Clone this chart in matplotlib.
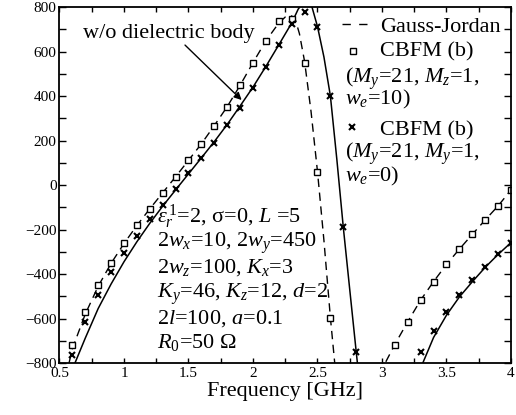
import numpy as np
import matplotlib
matplotlib.use("Agg")
import matplotlib.pyplot as plt
from matplotlib.ticker import MultipleLocator

plt.rcParams['font.family'] = ['Liberation Serif', 'DejaVu Serif']
plt.rcParams['mathtext.fontset'] = 'custom'
plt.rcParams['mathtext.rm'] = 'Liberation Serif'
plt.rcParams['mathtext.it'] = 'Liberation Serif:italic'

# Gauss-Jordan (dashed), two branches
gj_f1 = [0.55, 0.6, 0.7, 0.8, 0.9, 1.0, 1.1, 1.2, 1.3, 1.4, 1.5, 1.6, 1.7, 1.8, 1.9,
         2.0, 2.1, 2.2, 2.25, 2.3, 2.33, 2.36, 2.4, 2.45, 2.5, 2.55, 2.6, 2.65]
gj_x1 = [-860, -735, -580, -455, -352, -263, -182, -107, -35, 37, 111, 185, 267, 352, 448,
         550, 648, 728, 755, 760, 740, 680, 555, 330, 60, -250, -596, -900]
gj_f2 = [2.98, 3.1, 3.2, 3.3, 3.4, 3.5, 3.6, 3.7, 3.8, 3.9, 4.0]
gj_x2 = [-850, -716, -614, -517, -434, -357, -288, -222, -157, -94, -22]

# w/o dielectric body (solid), two branches
wo_f1 = [0.6, 0.62, 0.7, 0.8, 0.9, 1.0, 1.1, 1.2, 1.3, 1.4, 1.5, 1.6, 1.7, 1.8, 1.9,
         2.0, 2.1, 2.2, 2.3, 2.35, 2.4, 2.45, 2.5, 2.55, 2.6, 2.65, 2.7, 2.75, 2.8, 2.85]
wo_x1 = [-840, -800, -688, -555, -445, -345, -255, -172, -95, -22, 50, 122, 195, 272, 355,
         440, 533, 630, 728, 790, 830, 815, 712, 575, 400, 115, -190, -470, -749, -1020]
wo_f2 = [3.28, 3.4, 3.5, 3.6, 3.7, 3.8, 3.9, 4.0]
wo_x2 = [-850, -685, -585, -503, -435, -370, -312, -259]

# CBFM (b), My=21, Mz=1, we=10 (squares)
sq_f = [0.6, 0.7, 0.8, 0.9, 1.0, 1.1, 1.2, 1.3, 1.4, 1.5, 1.6, 1.7, 1.8, 1.9, 2.0,
        2.1, 2.2, 2.3, 2.4, 2.5, 2.6, 3.1, 3.2, 3.3, 3.4, 3.5, 3.6, 3.7, 3.8, 3.9, 4.0]
sq_x = [-720, -572, -451, -351, -262, -181, -106, -35, 37, 111, 184, 267, 352, 448, 550,
        649, 736, 746, 550, 60, -596, -718, -614, -517, -434, -357, -288, -222, -157, -94, -22]

# CBFM (b), My=21, My=1, we=0 (crosses)
cr_f = [0.6, 0.7, 0.8, 0.9, 1.0, 1.1, 1.2, 1.3, 1.4, 1.5, 1.6, 1.7, 1.8, 1.9, 2.0,
        2.1, 2.2, 2.3, 2.4, 2.5, 2.6, 2.7, 2.8, 3.3, 3.4, 3.5, 3.6, 3.7, 3.8, 3.9, 4.0]
cr_x = [-764, -614, -494, -392, -307, -228, -154, -90, -18, 52, 121, 190, 270, 347, 434,
        529, 629, 723, 776, 712, 400, -190, -749, -752, -656, -569, -494, -427, -367, -310, -259]

params = [r"$\varepsilon_r^{\,1}$=2, σ=0, $L$ =5",
          r"2$w_x$=10, 2$w_y$=450",
          r"2$w_z$=100, $K_x$=3",
          r"$K_y$=46, $K_z$=12, $d$=2",
          r"2$l$=100, $a$=0.1",
          r"$R_0$=50 Ω"]

fig = plt.figure(figsize=(5.16, 4.15), dpi=100)
ax = fig.add_axes([0.1153, 0.1253, 0.8750, 0.8578])

dash = (6, 4)
ax.plot(gj_f1, gj_x1, color='k', lw=1.0, dashes=dash)
ax.plot(gj_f2, gj_x2, color='k', lw=1.0, dashes=dash)
ax.plot(wo_f1, wo_x1, color='k', lw=1.1)
ax.plot(wo_f2, wo_x2, color='k', lw=1.1)
ax.plot(sq_f, sq_x, ls='none', marker='s', ms=4.3, mfc='white', mec='k', mew=1.0)
ax.plot(cr_f, cr_x, ls='none', marker='x', ms=4.5, mec='k', mew=1.5)

ax.set_xlim(0.5, 4.0)
ax.set_ylim(-800, 800)
ax.xaxis.set_minor_locator(MultipleLocator(0.25))
ax.yaxis.set_major_locator(MultipleLocator(200))
ax.yaxis.set_minor_locator(MultipleLocator(100))
ax.set_xticks([0.5, 1, 1.5, 2, 2.5, 3, 3.5, 4])
ax.set_xticklabels(['0.5', '1', '1.5', '2', '2.5', '3', '3.5', '4'])
ax.tick_params(which='both', direction='in', top=True, right=True, labelsize=11, width=1)
ax.tick_params(axis='x', which='both', length=3.5, pad=3)
ax.tick_params(axis='y', which='both', length=5, pad=2)
for s in ax.spines.values():
    s.set_linewidth(1.3)

ax.set_xlabel('Frequency [GHz]', fontsize=16, labelpad=1)

# annotation
ax.text(0.682, 661, 'w/o dielectric body', fontsize=16, ha='left', va='baseline')
ax.annotate('', xy=(1.912, 382), xytext=(1.473, 629),
            arrowprops=dict(arrowstyle='-|>', lw=1.0, color='k', mutation_scale=11,
                            shrinkA=0, shrinkB=0))

# parameter block
base_y = [0.393, 0.326, 0.253, 0.183, 0.112, 0.042]
for txt, yy in zip(params, base_y):
    ax.text(0.216, yy, txt, transform=ax.transAxes, fontsize=16, ha='left', va='baseline')

# legend, drawn by hand to keep the wrapped lines under the symbols
tr = ax.transAxes
ax.plot([0.626, 0.681], [0.952, 0.952], color='k', lw=1.0, dashes=(6, 6), transform=tr)
ax.text(0.710, 0.931, 'Gauss-Jordan', transform=tr, fontsize=16, va='baseline')
ax.plot([0.649], [0.877], marker='s', ms=4.3, mfc='white', mec='k', mew=1.0, transform=tr)
ax.text(0.710, 0.860, 'CBFM (b)', transform=tr, fontsize=16, va='baseline')
ax.text(0.632, 0.786, r"($M_y$=21, $M_z$=1,", transform=tr, fontsize=16, va='baseline')
ax.text(0.632, 0.725, r"$w_e$=10)", transform=tr, fontsize=16, va='baseline')
ax.plot([0.647], [0.664], marker='x', ms=4.5, mec='k', mew=1.5, transform=tr)
ax.text(0.710, 0.640, 'CBFM (b)', transform=tr, fontsize=16, va='baseline')
ax.text(0.632, 0.575, r"($M_y$=21, $M_y$=1,", transform=tr, fontsize=16, va='baseline')
ax.text(0.632, 0.509, r"$w_e$=0)", transform=tr, fontsize=16, va='baseline')

fig.savefig('out.png', dpi=100)
